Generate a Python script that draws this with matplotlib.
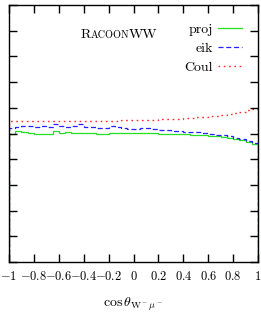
import numpy as np
import matplotlib
matplotlib.use("Agg")
import matplotlib.pyplot as plt
from matplotlib.offsetbox import TextArea, HPacker, AnchoredOffsetbox

plt.rcParams['mathtext.fontset'] = 'cm'
plt.rcParams['font.family'] = ['cmr10', 'DejaVu Serif']
plt.rcParams['axes.unicode_minus'] = False

# bin edges of cos(theta) histograms
bin_edges = np.linspace(-1, 1, 41)

# relative corrections (arbitrary units, axis has no labels)
proj = [5.000, 5.078, 5.039, 5.019, 5.000, 5.000, 5.000, 5.078, 5.019, 5.039,
        5.019, 5.019, 5.019, 5.019, 4.981, 5.000, 5.019, 5.019, 5.019, 5.019,
        5.019, 5.019, 5.019, 5.019, 5.000, 5.000, 4.981, 4.981, 4.981, 4.961,
        4.961, 4.942, 4.922, 4.903, 4.864, 4.825, 4.786, 4.728, 4.669, 4.591]
eik = [5.214, 5.253, 5.311, 5.292, 5.272, 5.292, 5.272, 5.370, 5.292, 5.272,
       5.311, 5.370, 5.272, 5.253, 5.233, 5.233, 5.311, 5.253, 5.214, 5.175,
       5.175, 5.195, 5.214, 5.156, 5.117, 5.117, 5.097, 5.097, 5.058, 5.058,
       5.039, 5.019, 5.000, 4.961, 4.942, 4.903, 4.844, 4.786, 4.708, 4.630]
coul = [5.467, 5.467, 5.470, 5.472, 5.475, 5.475, 5.478, 5.480, 5.483, 5.486,
        5.486, 5.489, 5.491, 5.494, 5.494, 5.497, 5.500, 5.503, 5.506, 5.506,
        5.506, 5.514, 5.525, 5.533, 5.545, 5.556, 5.564, 5.580, 5.595, 5.611,
        5.630, 5.650, 5.673, 5.700, 5.731, 5.767, 5.805, 5.848, 5.895, 5.946]

x_ticks = [-1, -0.8, -0.6, -0.4, -0.2, 0, 0.2, 0.4, 0.6, 0.8, 1]
x_ticklabels = ["$-1$", "$-0.8$", "$-0.6$", "$-0.4$", "$-0.2$", "$0$",
                "$0.2$", "$0.4$", "$0.6$", "$0.8$", "$1$"]

fig = plt.figure(figsize=(2.61, 3.14), dpi=100)
ax = fig.add_axes([9 / 261, 1 - 262 / 314, 249 / 261, 257 / 314])

ax.stairs(proj, bin_edges, color='#22e022', lw=0.9, label='proj')
ax.stairs(eik, bin_edges, color='#2222ff', lw=0.9, linestyle=(0, (4, 2.2)), label='eik')
ax.stairs(coul, bin_edges, color='#ff2a2a', lw=1.0, linestyle=(0, (1.2, 2.6)), label='Coul')

ax.set_xlim(-1, 1)
ax.set_ylim(0, 10)
ax.set_xticks(x_ticks)
ax.set_xticklabels(x_ticklabels, fontsize=9)
ax.set_yticks(np.arange(0, 11, 1))
ax.set_yticklabels([])
ax.tick_params(direction='in', length=5.5, width=1, top=True, right=True, pad=6)
for s in ax.spines.values():
    s.set_linewidth(1)

ax.set_xlabel(r"$\cos\theta_{\mathrm{W}^-\mu^-}$", fontsize=10, labelpad=9)

leg = ax.legend(loc='upper right', bbox_to_anchor=(0.936, 0.93), frameon=False,
                markerfirst=False, fontsize=10, handlelength=1.75, handletextpad=0.35,
                labelspacing=0.45, borderpad=0, borderaxespad=0)

# small caps "RacoonWW"
parts = [TextArea("R", textprops=dict(fontsize=10)),
         TextArea("ACOON", textprops=dict(fontsize=7.3)),
         TextArea("WW", textprops=dict(fontsize=10))]
box = HPacker(children=parts, align='baseline', pad=0, sep=0)
anch = AnchoredOffsetbox(loc='center', child=box, frameon=False,
                         bbox_to_anchor=(0.442, 0.885), bbox_transform=ax.transAxes,
                         borderpad=0, pad=0)
ax.add_artist(anch)

fig.savefig("out.png", dpi=100)
